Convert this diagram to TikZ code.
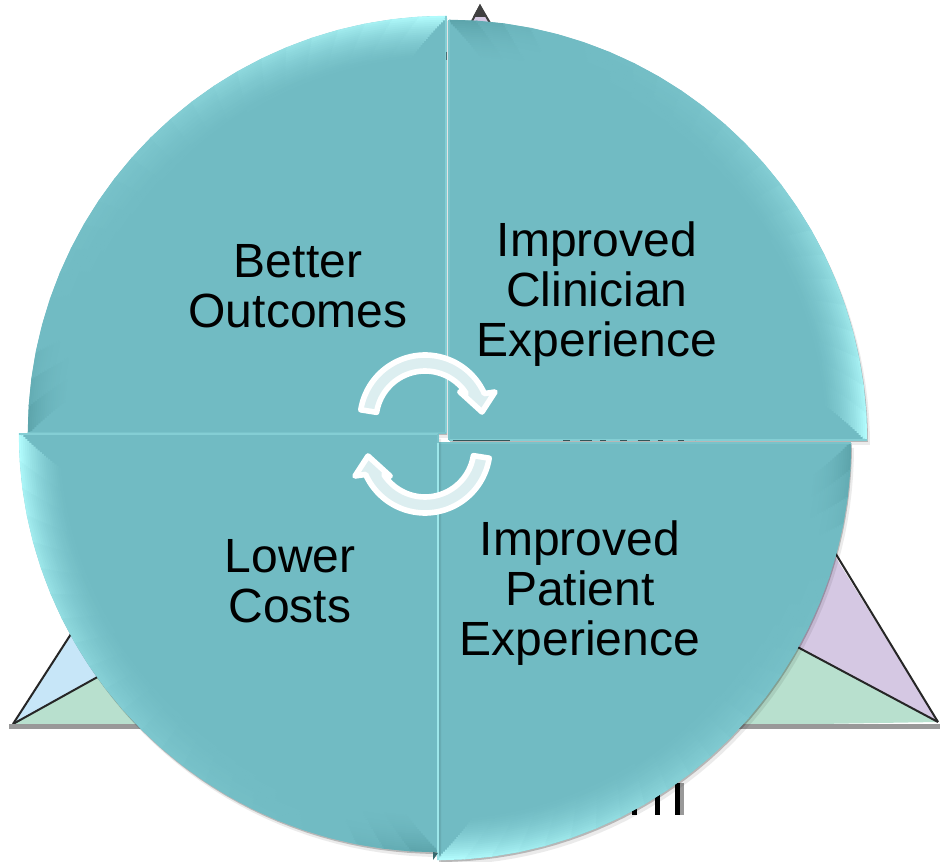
\documentclass[tikz,border=0pt]{standalone}
\usepackage{fontspec}
\setmainfont{Liberation Sans}
\definecolor{base}{HTML}{71BBC3}
\definecolor{hl}{HTML}{B4FEFF}
\definecolor{dk}{HTML}{4F959C}
\definecolor{bluefill}{HTML}{C7E6F8}
\definecolor{greenfill}{HTML}{B8E0CE}
\definecolor{purplefill}{HTML}{D5C8E3}
\definecolor{arrowfill}{HTML}{DCEEF0}
\tikzset{
  textlabel/.style={font=\fontsize{36pt}{37.2pt}\selectfont,align=center,text=black,inner sep=0pt},
  triline/.style={draw=black!85,line width=1.5pt},
  baseline/.style={draw=black!40,line width=4pt,line cap=butt},
  arrowshape/.style={fill=arrowfill,draw=white,line width=4.2pt,line join=round},
  remnant/.style={fill=black}
}
% cx cy rx ry start-angle
\newcommand{\qsector}[5]{%
  \pgfmathsetmacro\qend{#5+90}%
  \begin{scope}[shift={(#1,#2)}]
    \fill[black,opacity=.08,shift={(3,5)}] (0,0) -- plot[domain=#5:\qend,samples=45] ({#3*cos(\x)},{#4*sin(\x)}) -- cycle;
    \fill[black,opacity=.22,shift={(1,2)}] (0,0) -- plot[domain=#5:\qend,samples=45] ({#3*cos(\x)},{#4*sin(\x)}) -- cycle;
    \fill[base] (0,0) -- plot[domain=#5:\qend,samples=45] ({#3*cos(\x)},{#4*sin(\x)}) -- cycle;
    \foreach \d in {0,2,...,38}{%
      \pgfmathsetmacro\m{asin(\d/#3)}%
      \pgfmathsetmacro\stepa{(90-2*\m)/24}%
      \pgfmathsetmacro\f{(1-\d/40)*(1-0.5*\d/40)}%
      \foreach \i in {0,...,23}{%
        \pgfmathsetmacro\aa{#5+\m+\i*\stepa}%
        \pgfmathsetmacro\bb{\aa+\stepa+0.1}%
        \pgfmathsetmacro\t{(\aa+\stepa/2-#5)/90}%
        \pgfmathsetmacro\s{\t<0.14 ? -0.7*(1-\t/0.14) : (max(\t-0.14,0.001)/0.86)^1.8}%
        \pgfmathtruncatemacro\pct{100*abs(\s)*\f}%
        \pgfmathtruncatemacro\pos{\s>=0 ? 1 : 0}%
        \ifnum\pos=1 \def\cc{hl!\pct!base}\else \def\cc{dk!\pct!base}\fi
        \draw[color=\cc,line width=1.95pt]
          ({(#3-\d-1)*cos(\aa)},{(#4-\d-1)*sin(\aa)}) -- ({(#3-\d-1)*cos(\bb)},{(#4-\d-1)*sin(\bb)});
      }%
    }%
    \draw[hl!28!base,line width=1pt] (0,0) -- ({#3*cos(\qend)},{#4*sin(\qend)});
    \draw[hl!12!base,line width=.8pt] (0,0) -- ({#3*cos(#5)},{#4*sin(#5)});
  \end{scope}%
}
% circular arrow about centre (425,420) in its own frame
\newcommand{\cyclearrow}[1]{%
  \begin{scope}[rotate around={#1:(425,434)}]
    \path[arrowshape] plot[domain=189:336,samples=40] ({425+65*cos(\x)},{420+65*sin(\x)})
      -- (495,392) -- (482,412) -- (460,392)
      -- plot[domain=327:189,samples=40] ({425+49*cos(\x)},{420+49*sin(\x)}) -- cycle;
  \end{scope}%
}
\begin{document}
\begin{tikzpicture}[x=0.75pt,y=-0.75pt]
\useasboundingbox (0,0) rectangle (940,862);
\fill[white] (0,0) rectangle (940,862);
% triangles behind the circle
\fill[bluefill] (13,724) -- (100,589) -- (200,620) -- cycle;
\fill[greenfill] (13,724) -- (200,620) -- (200,726) -- cycle;
\draw[triline] (13,724) -- (100,589);
\draw[triline] (13,724) -- (200,620);
\fill[purplefill] (938,722) -- (800,500) -- (700,595) -- cycle;
\fill[greenfill] (938,722) -- (700,595) -- (700,726) -- cycle;
\draw[triline] (938,722) -- (800,495);
\draw[triline] (938,722) -- (700,595);
\draw[baseline] (9,726.5) -- (200,726.5);
\draw[baseline] (700,726.5) -- (940,726.5);
% top tip
\fill[purplefill] (480,6) -- (470,24) -- (490,24) -- cycle;
\fill[black!75] (480,4) -- (473,17) -- (487,17) -- cycle;
\draw[black!75,line width=1.5pt] (471,23) -- (480,6) -- (490,23);
% bottom remnants
\fill[remnant] (632,783) rectangle (637,815);
\fill[remnant] (655,783) rectangle (660,815);
\fill[remnant] (675,783) rectangle (680,815);
\fill[black!40] (680,783) rectangle (684,815);
% quadrants
\qsector{446}{433}{418}{417}{180}
\qsector{449}{440}{418}{420}{270}
\qsector{438}{443}{413}{417}{0}
\qsector{438}{434}{419}{418}{90}
\draw[hl!65!base,line width=1.3pt] (438,443) -- (438,860);
\fill[dk!70!black] (433,860) -- (438,853) -- (433,852) -- cycle;
% seam marks
\draw[black!55!base,line width=.8pt] (453,440.5) -- (510,440.5);
\draw[black!55!base,line width=.8pt,dash pattern=on 5pt off 8pt on 9pt off 6pt on 4pt off 11pt] (563,440.5) -- (695,440.5);
\draw[black!40!base,line width=1pt] (446.5,52) -- (446.5,60);
% labels
\node[textlabel] (better) at (298,286) {Better\\Outcomes};
\node[textlabel] (clinician) at (597,294) {Improved\\Clinician\\Experience};
\node[textlabel] (costs) at (290,581) {Lower\\Costs};
\node[textlabel] (patient) at (580,593) {Improved\\Patient\\Experience};
% cycle arrows
\cyclearrow{0}
\cyclearrow{180}
\end{tikzpicture}
\end{document}
